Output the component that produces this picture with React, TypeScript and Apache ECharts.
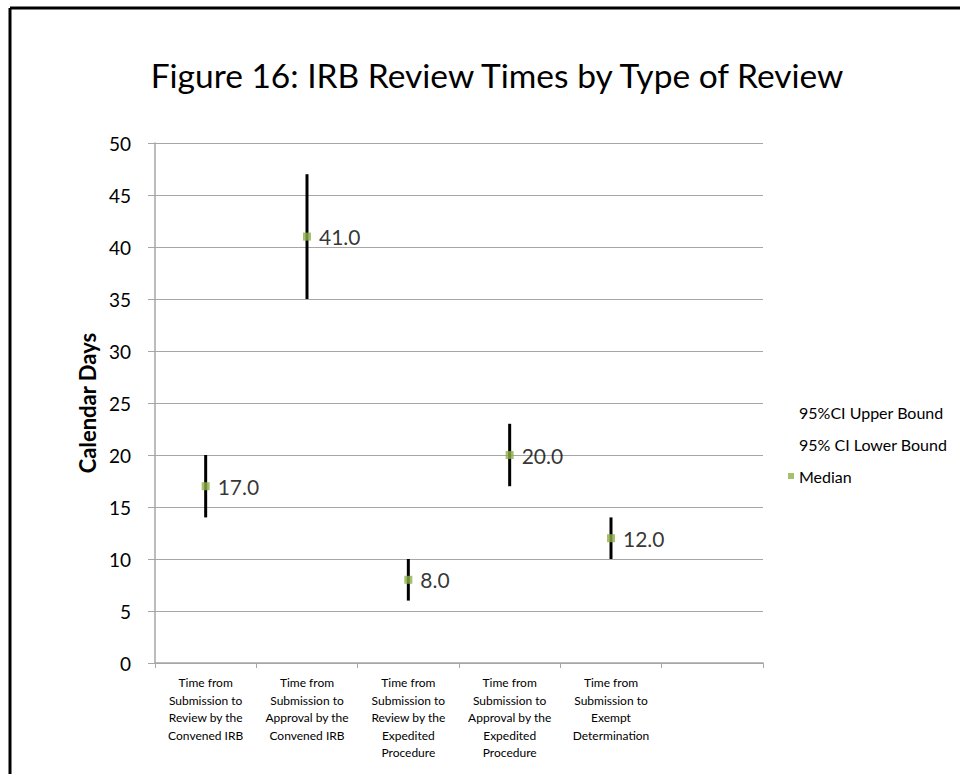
import React, { useEffect, useRef } from "react";
import * as echarts from "echarts";

const categories = [
  "Time from\nSubmission to\nReview by the\nConvened IRB",
  "Time from\nSubmission to\nApproval by the\nConvened IRB",
  "Time from\nSubmission to\nReview by the\nExpedited\nProcedure",
  "Time from\nSubmission to\nApproval by the\nExpedited\nProcedure",
  "Time from\nSubmission to\nExempt\nDetermination",
  "",
];
const upperBound = [20, 47, 10, 23, 14];
const lowerBound = [14, 35, 6, 17, 10];
const median = [17, 41, 8, 20, 12];

const FONT = "Lato, 'Noto Sans', sans-serif";

export default function App() {
  const ref = useRef<HTMLDivElement>(null);
  useEffect(() => {
    if (!ref.current) return;
    const chart = echarts.init(ref.current, null, { renderer: "svg" });
    const hl = upperBound.map((u, i) => [i, lowerBound[i], u]);
    chart.setOption({
      animation: false,
      backgroundColor: "#fff",
      textStyle: { fontFamily: FONT, color: "#000" },
      title: {
        text: "Figure 16: IRB Review Times by Type of Review",
        left: 492,
        textAlign: "center",
        top: 53,
        textStyle: { fontFamily: FONT, fontSize: 33.5, fontWeight: "normal", color: "#000" },
      },
      graphic: [
        { type: "line", shape: { x1: 10, y1: 8, x2: 960, y2: 8 }, style: { stroke: "#000", lineWidth: 3 } },
        { type: "line", shape: { x1: 10, y1: 8, x2: 10, y2: 774 }, style: { stroke: "#000", lineWidth: 3 } },
      ],
      legend: {
        orient: "vertical",
        left: 783,
        top: 399,
        itemGap: 16,
        itemWidth: 6,
        itemHeight: 6,
        textStyle: { fontFamily: FONT, fontSize: 16, color: "#000" },
        data: [
          { name: "95%CI Upper Bound", icon: "rect", itemStyle: { color: "rgba(0,0,0,0)" } },
          { name: "95% CI Lower Bound", icon: "rect", itemStyle: { color: "rgba(0,0,0,0)" } },
          { name: "Median", icon: "rect" },
        ],
      },
      grid: { left: 155, right: 197, top: 143, bottom: 111 },
      xAxis: {
        type: "category",
        data: categories,
        boundaryGap: true,
        axisLine: { lineStyle: { color: "#a6a6a6", width: 1.5 } },
        axisTick: { show: true, length: 5, lineStyle: { color: "#a6a6a6" } },
        axisLabel: {
          interval: 0,
          margin: 11,
          fontSize: 12,
          lineHeight: 17.5,
          color: "#000",
          fontFamily: FONT,
        },
      },
      yAxis: {
        type: "value",
        min: 0,
        max: 50,
        interval: 5,
        name: "Calendar Days",
        nameLocation: "middle",
        nameGap: 52,
        nameTextStyle: { fontFamily: FONT, fontSize: 22, fontWeight: "bold", color: "#000" },
        axisLine: { show: true, lineStyle: { color: "#a6a6a6", width: 1.5 } },
        axisTick: { show: true, length: 7, lineStyle: { color: "#a6a6a6" } },
        splitLine: { lineStyle: { color: "#a6a6a6", width: 1.2 } },
        axisLabel: { margin: 24, fontSize: 19, color: "#000", fontFamily: FONT },
      },
      series: [
        {
          name: "hl",
          type: "custom",
          data: hl,
          z: 3,
          encode: { x: 0, y: [1, 2] },
          renderItem: (params: any, api: any) => {
            const p1 = api.coord([api.value(0), api.value(1)]);
            const p2 = api.coord([api.value(0), api.value(2)]);
            return {
              type: "line",
              shape: { x1: p1[0], y1: p1[1], x2: p2[0], y2: p2[1] },
              style: { stroke: "#000", lineWidth: 3 },
            };
          },
        },
        {
          name: "95%CI Upper Bound",
          type: "scatter",
          data: upperBound,
          symbolSize: 0,
          itemStyle: { color: "rgba(0,0,0,0)" },
        },
        {
          name: "95% CI Lower Bound",
          type: "scatter",
          data: lowerBound,
          symbolSize: 0,
          itemStyle: { color: "rgba(0,0,0,0)" },
        },
        {
          name: "Median",
          type: "scatter",
          data: median,
          symbol: "rect",
          symbolSize: 8,
          z: 4,
          itemStyle: { color: "#8eb049" },
          label: {
            show: true,
            position: "right",
            distance: 8,
            fontSize: 21,
            color: "#000",
            fontFamily: FONT,
            formatter: (p: any) => Number(p.value).toFixed(1),
          },
        },
      ],
    });
    return () => chart.dispose();
  }, []);
  return (
    <div
      ref={ref}
      style={{ position: "fixed", left: 0, top: 0, width: 960, height: 774 }}
    />
  );
}
